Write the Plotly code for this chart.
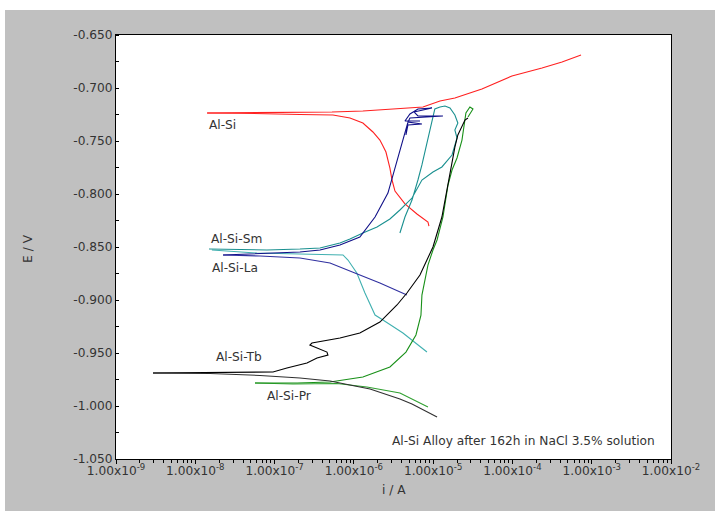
import plotly.graph_objects as go

# ---------------- data (current in A, potential in V) ----------------
alsi_cat_i = [8.85e-6, 8.6e-6, 6.25e-6, 4.41e-6, 3.30e-6, 3.03e-6, 2.85e-6, 2.69e-6, 2.54e-6,
              2.33e-6, 2.13e-6, 1.74e-6, 1.30e-6, 8.93e-7, 5.45e-7, 2.09e-7, 8.75e-8, 3.66e-8, 1.41e-8]
alsi_cat_E = [-0.8302, -0.8264, -0.8189, -0.8094, -0.7972, -0.7868, -0.7755, -0.7679, -0.7604,
              -0.7547, -0.7491, -0.7415, -0.7330, -0.7283, -0.7255, -0.7250, -0.7241, -0.7238, -0.7236]
alsi_an_i = [1.41e-8, 2.74e-8, 8.75e-8, 2.09e-7, 5.30e-7, 1.30e-6, 3.50e-6, 7.44e-6, 1.22e-5,
             1.88e-5, 4.12e-5, 9.86e-5, 2.36e-4, 4.22e-4, 7.33e-4]
alsi_an_E = [-0.7236, -0.7234, -0.7234, -0.7231, -0.7226, -0.7217, -0.7198, -0.7179, -0.7123,
             -0.7094, -0.7009, -0.6887, -0.6811, -0.6755, -0.6689]

la_cat_i = [4.67e-6, 2.13e-6, 1.03e-6, 5.00e-7, 2.09e-7, 6.55e-8, 2.24e-8]
la_cat_E = [-0.8953, -0.8840, -0.8745, -0.8651, -0.8604, -0.8585, -0.8575]
la_an_i = [2.24e-8, 5.66e-8, 2.09e-7, 3.74e-7, 6.68e-7, 1.19e-6, 1.85e-6, 2.69e-6, 3.11e-6,
           3.50e-6, 4.04e-6, 4.54e-6, 4.81e-6, 4.54e-6, 4.81e-6, 7.22e-6, 4.81e-6, 5.10e-6,
           1.33e-5, 6.43e-6, 5.73e-6, 9.66e-6, 6.43e-6, 5.10e-6, 4.41e-6, 6.82e-6]
la_an_E = [-0.8575, -0.8566, -0.8547, -0.8528, -0.8481, -0.8406, -0.8217, -0.7991, -0.7821,
           -0.7679, -0.7519, -0.7396, -0.7321, -0.7443, -0.7349, -0.7340, -0.7321, -0.7283,
           -0.7264, -0.7264, -0.7226, -0.7189, -0.7198, -0.7245, -0.7311, -0.7311]

sm_an_i = [1.49e-8, 8.02e-8, 2.09e-7, 3.74e-7, 6.68e-7, 8.93e-7, 1.30e-6, 1.96e-6, 2.85e-6,
           3.81e-6, 5.41e-6, 6.43e-6, 7.22e-6, 9.95e-6, 1.29e-5, 1.73e-5, 1.88e-5, 2.00e-5,
           1.88e-5, 2.05e-5, 1.88e-5, 1.63e-5, 1.41e-5, 1.22e-5, 1.05e-5, 8.6e-6, 7.22e-6,
           6.43e-6, 5.41e-6, 4.41e-6, 3.81e-6]
sm_an_E = [-0.8519, -0.8528, -0.8519, -0.8509, -0.8462, -0.8425, -0.8368, -0.8311, -0.8236,
           -0.8151, -0.8038, -0.7934, -0.7868, -0.7792, -0.7745, -0.7632, -0.7538, -0.7472,
           -0.7396, -0.7330, -0.7255, -0.7189, -0.7170, -0.7179, -0.7198, -0.7491, -0.7726,
           -0.7868, -0.8057, -0.8217, -0.8368]

sm_cat_i = [1.62e-8, 6.00e-8, 2.09e-7, 7.29e-7, 8.43e-7, 1.09e-6, 1.38e-6, 1.85e-6, 2.33e-6,
            4.16e-6, 8.36e-6]
sm_cat_E = [-0.8528, -0.8557, -0.8566, -0.8575, -0.8623, -0.8745, -0.8934, -0.9142, -0.9189,
            -0.9311, -0.9491]

tb_cat_i = [1.12e-5, 8.36e-6, 5.41e-6, 3.81e-6, 2.69e-6, 1.60e-6, 1.03e-6, 5.00e-7, 2.09e-7,
            6.55e-8, 1.53e-8, 2.93e-9]
tb_cat_E = [-1.0104, -1.0057, -0.9981, -0.9934, -0.9896, -0.9840, -0.9811, -0.9764, -0.9736,
            -0.9712, -0.9693, -0.9689]
tb_an_i = [2.93e-9, 7.14e-8, 9.55e-8, 1.43e-7, 2.56e-7, 3.43e-7, 4.71e-7, 4.58e-7, 3.53e-7,
           2.79e-7, 2.96e-7, 6.68e-7, 1.19e-6, 2.13e-6, 3.50e-6, 4.67e-6, 6.82e-6, 8.6e-6,
           9.95e-6, 1.29e-5, 1.49e-5, 1.63e-5, 1.73e-5, 1.88e-5, 2.05e-5, 2.31e-5, 2.52e-5, 2.75e-5]
tb_an_E = [-0.9689, -0.9679, -0.9679, -0.9642, -0.9594, -0.9547, -0.9519, -0.9491, -0.9453,
           -0.9425, -0.9406, -0.9358, -0.9311, -0.9208, -0.9047, -0.8934, -0.8764, -0.8594,
           -0.8500, -0.8217, -0.7962, -0.7840, -0.7708, -0.7557, -0.7443, -0.7368, -0.7302, -0.7283]

pr_cat_i = [8.6e-6, 3.81e-6, 1.46e-6, 6.12e-7, 1.71e-7, 5.66e-8]
pr_cat_E = [-1.0009, -0.9877, -0.9821, -0.9788, -0.9792, -0.9783]
pr_an_i = [5.66e-8, 1.92e-7, 5.00e-7, 1.30e-6, 2.85e-6, 4.54e-6, 6.07e-6, 7.02e-6, 7.22e-6,
           7.88e-6, 8.6e-6, 9.95e-6, 1.12e-5, 1.33e-5, 1.54e-5, 1.73e-5, 2.00e-5, 2.31e-5,
           2.45e-5, 2.59e-5, 2.91e-5, 3.18e-5, 2.75e-5]
pr_an_E = [-0.9783, -0.9783, -0.9774, -0.9726, -0.9632, -0.9491, -0.9330, -0.9142, -0.8953,
           -0.8792, -0.8670, -0.8528, -0.8434, -0.8217, -0.7915, -0.7774, -0.7660, -0.7491,
           -0.7349, -0.7236, -0.7179, -0.7198, -0.7274]

x_tick_vals = [1e-9, 1e-8, 1e-7, 1e-6, 1e-5, 1e-4, 1e-3, 1e-2]
x_tick_text = ["1.00x10<sup>-9</sup>", "1.00x10<sup>-8</sup>", "1.00x10<sup>-7</sup>",
               "1.00x10<sup>-6</sup>", "1.00x10<sup>-5</sup>", "1.00x10<sup>-4</sup>",
               "1.00x10<sup>-3</sup>", "1.00x10<sup>-2</sup>"]
y_tick_vals = [-0.65, -0.70, -0.75, -0.80, -0.85, -0.90, -0.95, -1.00, -1.05]
y_tick_text = ["-0.650", "-0.700", "-0.750", "-0.800", "-0.850", "-0.900", "-0.950", "-1.000", "-1.050"]

curve_labels = ["Al-Si", "Al-Si-Sm", "Al-Si-La", "Al-Si-Tb", "Al-Si-Pr"]
label_x = [-7.663, -7.474, -7.499, -7.449, -6.818]   # log10(i) positions
label_y = [-0.7349, -0.8425, -0.8698, -0.9538, -0.9906]

# ---------------- figure ----------------
fig = go.Figure()

def add(xs, ys, color, w=1.1):
    fig.add_trace(go.Scatter(x=xs, y=ys, mode="lines", line=dict(color=color, width=w),
                             showlegend=False, hoverinfo="skip"))

add(alsi_cat_i, alsi_cat_E, "#ff2020")
add(alsi_an_i, alsi_an_E, "#ff2020")
add(sm_cat_i, sm_cat_E, "#40b0b0")
add(sm_an_i, sm_an_E, "#1a9090")
add(la_cat_i, la_cat_E, "#3030a0")
add(la_an_i, la_an_E, "#101088")
add(pr_cat_i, pr_cat_E, "#30a030")
add(pr_an_i, pr_an_E, "#189018")
add(tb_cat_i, tb_cat_E, "#303030")
add(tb_an_i, tb_an_E, "#000000")

font_main = "DejaVu Sans, Verdana, sans-serif"
fs = 12.2
txt_col = "#333333"

for t, lx, ly in zip(curve_labels, label_x, label_y):
    fig.add_annotation(x=lx, y=ly, text=t, showarrow=False, xref="x", yref="y",
                       xanchor="center", yanchor="middle",
                       font=dict(family=font_main, size=fs, color=txt_col))

fig.add_annotation(x=-2.177, y=-1.033, xref="x", yref="y", xanchor="right", yanchor="middle",
                   text="Al-Si Alloy after 162h in NaCl 3.5% solution", showarrow=False,
                   font=dict(family=font_main, size=fs, color=txt_col))

fig.add_annotation(x=-0.160, y=0.496, xref="paper", yref="paper", text="E / V",
                   textangle=-90, showarrow=False, xanchor="center", yanchor="middle",
                   font=dict(family=font_main, size=fs, color=txt_col))
fig.add_annotation(x=0.5, y=-0.073, xref="paper", yref="paper", text="i / A",
                   showarrow=False, xanchor="center", yanchor="middle",
                   font=dict(family=font_main, size=fs, color=txt_col))

# white strips at top and left of the gray frame
fig.add_shape(type="rect", xref="paper", yref="paper", x0=-0.3, x1=1.2, y0=1.059, y1=1.2,
              fillcolor="white", line=dict(width=0), layer="below")
fig.add_shape(type="rect", xref="paper", yref="paper", x0=-0.3, x1=-0.2, y0=-0.3, y1=1.2,
              fillcolor="white", line=dict(width=0), layer="below")

fig.update_xaxes(type="log", range=[-9, -2], tickvals=x_tick_vals, ticktext=x_tick_text,
                 showgrid=False, zeroline=False, showline=True, linecolor="black", linewidth=1,
                 mirror=True, ticks="outside", ticklen=4, tickcolor="black", automargin=False,
                 ticklabelstandoff=-4,
                 minor=dict(ticks="outside", ticklen=3, dtick="D1", tickcolor="black", showgrid=False),
                 tickfont=dict(family=font_main, size=fs, color=txt_col))
fig.update_yaxes(range=[-1.05, -0.65], tickvals=y_tick_vals, ticktext=y_tick_text,
                 showgrid=False, zeroline=False, showline=True, linecolor="black", linewidth=1,
                 mirror=True, ticks="", automargin=False,
                 minor=dict(ticks="inside", ticklen=3, dtick=0.025, tickcolor="black", showgrid=False),
                 tickfont=dict(family=font_main, size=fs, color=txt_col))

fig.update_layout(width=715, height=511, margin=dict(l=116, r=44, t=35, b=52),
                  paper_bgcolor="#c0c0c0", plot_bgcolor="white", showlegend=False)

fig.write_html("out.html", config={"displayModeBar": False},
               post_script="document.body.style.margin='0';document.body.style.padding='0';")
